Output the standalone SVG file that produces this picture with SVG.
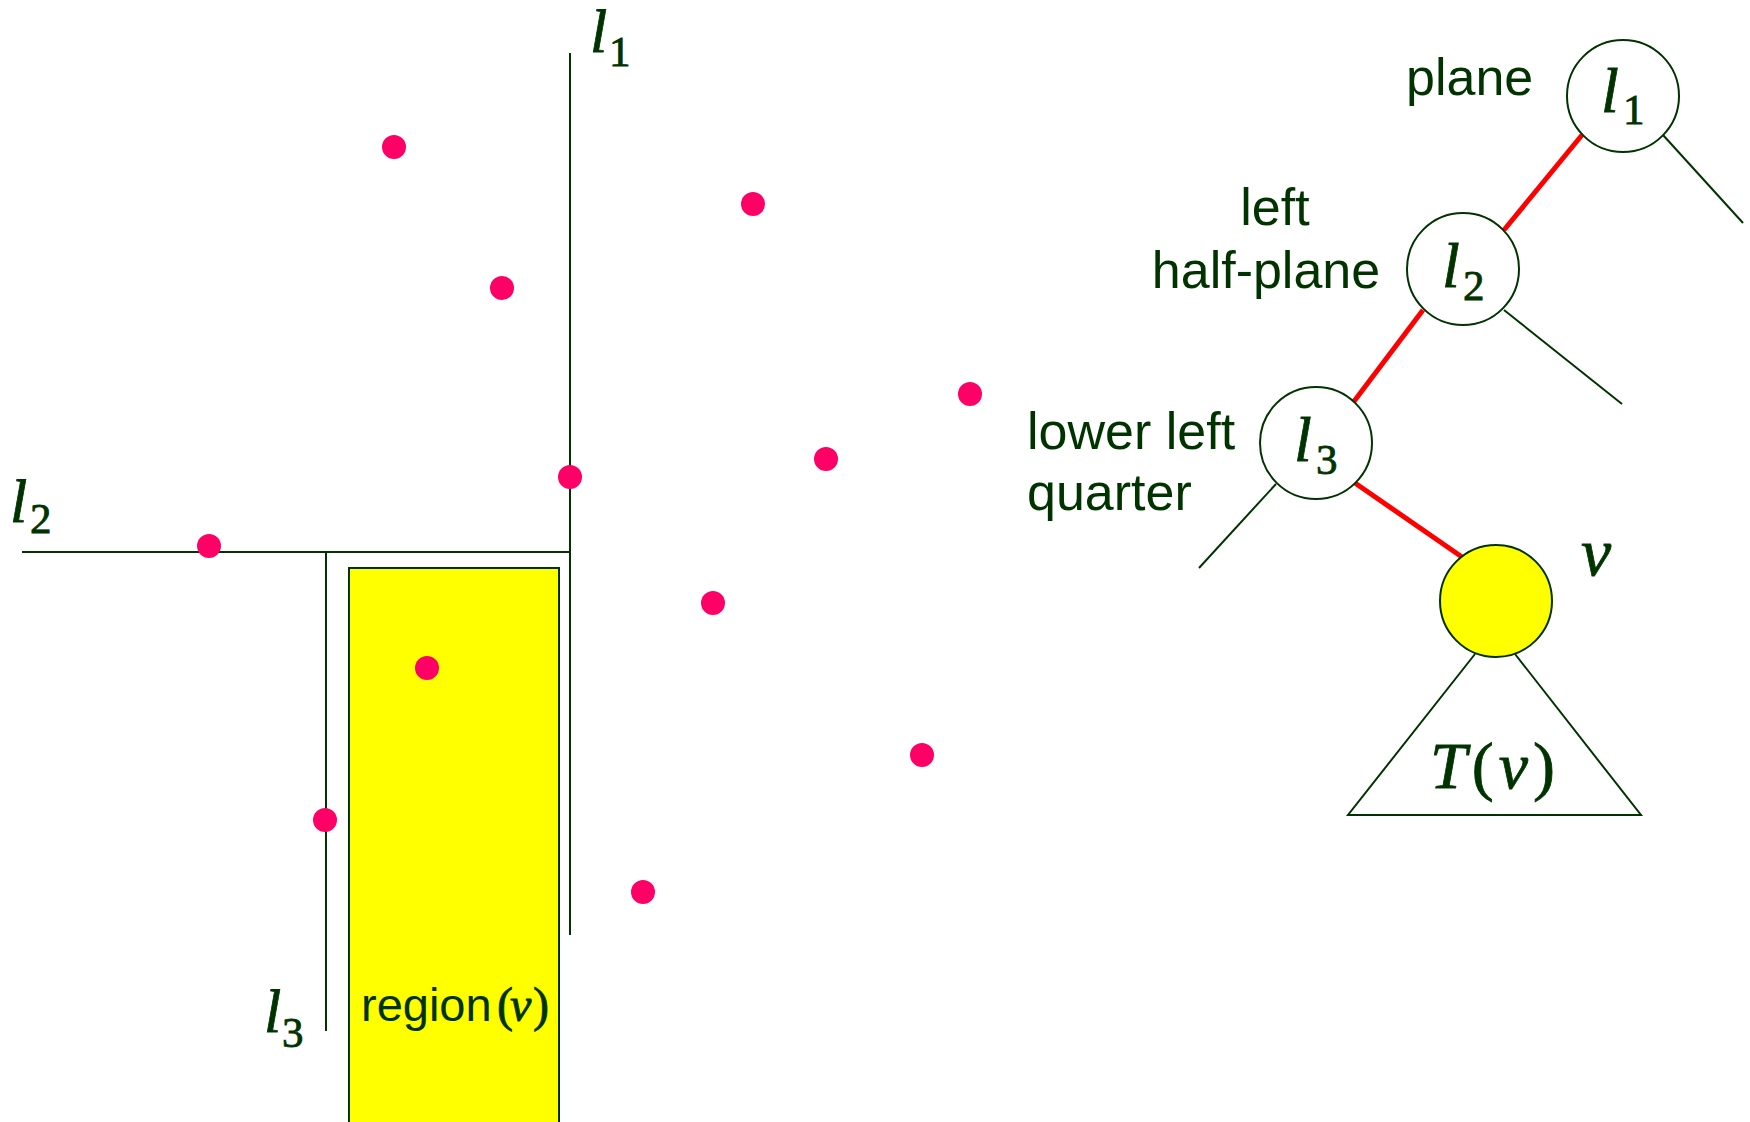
<svg xmlns="http://www.w3.org/2000/svg" width="1750" height="1122" viewBox="0 0 1750 1122">
<style>
.ln{stroke:#003300;stroke-width:2;fill:none}
.red{stroke:#ff0000;stroke-width:5;fill:none}
.nd{fill:#ffffff;stroke:#003300;stroke-width:2}
.pt{fill:#ff0066}
.sans{font-family:"Liberation Sans",Arial,sans-serif;font-size:52px;fill:#003300}
.mi{font-family:"Liberation Serif","Times New Roman",serif;font-style:italic;fill:#003300;stroke:#003300;stroke-width:0.8}
.mn{font-family:"Liberation Serif","Times New Roman",serif;font-style:normal;fill:#003300;stroke:#003300;stroke-width:0.8}
</style>
<rect width="1750" height="1122" fill="#ffffff"/>
<g id="plane-partition">
<rect x="349" y="568" width="210" height="560" fill="#ffff00" stroke="#003300" stroke-width="2"/>
<line class="ln" x1="570" y1="53" x2="570" y2="935"/>
<line class="ln" x1="22" y1="552" x2="570" y2="552"/>
<line class="ln" x1="326" y1="552" x2="326" y2="1031"/>
<text class="mi" x="590" y="52" font-size="62">l<tspan class="mn" x="609" y="66" font-size="43">1</tspan></text>
<text class="mi" x="10" y="522" font-size="62">l<tspan class="mn" x="30" y="533" font-size="43">2</tspan></text>
<text class="mi" x="264" y="1032" font-size="62">l<tspan class="mn" x="282" y="1047" font-size="43">3</tspan></text>
<text y="1021"><tspan class="sans" x="361" style="font-size:47px">region</tspan><tspan class="mn" x="497" font-size="48" stroke-width="0.4">(</tspan><tspan class="mi" x="510" font-size="48" stroke-width="0.4">v</tspan><tspan class="mn" x="533" font-size="48" stroke-width="0.4">)</tspan></text>
</g>
<g id="points">
<circle class="pt" cx="394" cy="147" r="12"/>
<circle class="pt" cx="753" cy="204" r="12"/>
<circle class="pt" cx="502" cy="288" r="12"/>
<circle class="pt" cx="970" cy="394" r="12"/>
<circle class="pt" cx="826" cy="459" r="12"/>
<circle class="pt" cx="570" cy="477" r="12"/>
<circle class="pt" cx="209" cy="546" r="12"/>
<circle class="pt" cx="713" cy="603" r="12"/>
<circle class="pt" cx="427" cy="668" r="12"/>
<circle class="pt" cx="922" cy="755" r="12"/>
<circle class="pt" cx="325" cy="820" r="12"/>
<circle class="pt" cx="643" cy="892" r="12"/>
</g>
<g id="connectors">
<line class="red" x1="1582" y1="135" x2="1504" y2="230"/>
<line class="red" x1="1423" y1="310" x2="1352" y2="404"/>
<line class="red" x1="1355" y1="483" x2="1462" y2="557"/>
<line class="ln" x1="1663" y1="135" x2="1743" y2="223"/>
<line class="ln" x1="1504" y1="310" x2="1622" y2="404"/>
<line class="ln" x1="1276" y1="484" x2="1199" y2="568"/>
</g>
<g id="node-l1">
<circle class="nd" cx="1623" cy="96" r="56"/>
<text class="mi" x="1601" y="112" font-size="64">l<tspan class="mn" x="1623" y="124" font-size="43">1</tspan></text>
<text class="sans" x="1406" y="95">plane</text>
</g>
<g id="node-l2">
<circle class="nd" cx="1463" cy="269" r="56"/>
<text class="mi" x="1442" y="287" font-size="64">l<tspan class="mn" x="1463" y="300" font-size="43">2</tspan></text>
<text class="sans" x="1275" y="225" text-anchor="middle">left</text>
<text class="sans" x="1266" y="288" text-anchor="middle">half-plane</text>
</g>
<g id="node-l3">
<circle class="nd" cx="1316" cy="443" r="56"/>
<text class="mi" x="1294" y="461" font-size="64">l<tspan class="mn" x="1316" y="474" font-size="43">3</tspan></text>
<text class="sans" x="1027" y="449">lower left</text>
<text class="sans" x="1027" y="510">quarter</text>
</g>
<g id="node-v">
<circle cx="1496" cy="601" r="56" fill="#ffff00" stroke="#003300" stroke-width="2"/>
<text class="mi" x="1581" y="575" font-size="68">v</text>
</g>
<g id="subtree-Tv">
<polyline class="ln" points="1475,654 1348,815 1641,815 1515,654"/>
<text x="1430" y="788" font-size="66" textLength="125" lengthAdjust="spacing"><tspan class="mi">T</tspan><tspan class="mn">(</tspan><tspan class="mi">v</tspan><tspan class="mn">)</tspan></text>
</g>
</svg>
